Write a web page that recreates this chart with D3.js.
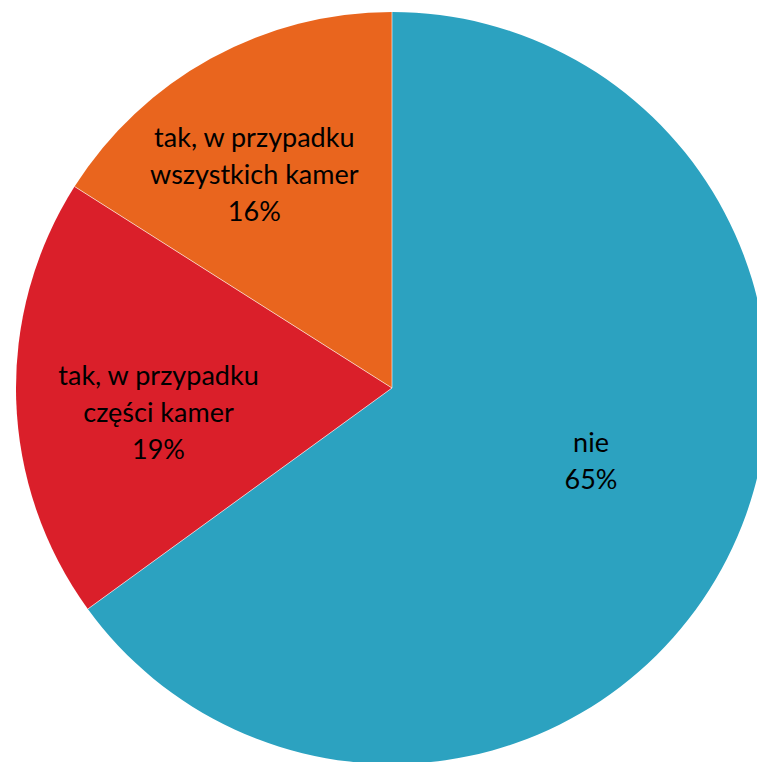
<!DOCTYPE html>
<html>
<head>
<meta charset="utf-8">
<script src="https://cdn.jsdelivr.net/npm/d3@7"></script>
<style>
  html, body { margin: 0; padding: 0; background: #fff; overflow: hidden; }
  text { font-family: Lato, "Open Sans", sans-serif; }
</style>
</head>
<body>
<svg id="chart" width="757" height="762"></svg>
<script>
// categories and shares (%), clockwise from 12 o'clock
const categories = ["nie", "tak, w przypadku części kamer", "tak, w przypadku wszystkich kamer"];
const labelLines = [["nie"], ["tak, w przypadku", "części kamer"], ["tak, w przypadku", "wszystkich kamer"]];
const values = [65, 19, 16];
const colors = ["#2CA2C0", "#DA1F2A", "#E9651E"];

const CX = 392, CY = 388, RADIUS = 376;
const LINE_H = 37;
// nudges so labels sit where the original placed them
const labelShift = [[-2, -29], [-8, 17], [-29, -16]];

const svg = d3.select("#chart");
const g = svg.append("g").attr("transform", `translate(${CX},${CY})`);

const pie = d3.pie().sort(null).value(d => d)(values);
const arc = d3.arc().innerRadius(0).outerRadius(RADIUS);
const labelArc = d3.arc().innerRadius(RADIUS * 0.6).outerRadius(RADIUS * 0.6);

g.selectAll("path.slice")
  .data(pie)
  .enter()
  .append("path")
  .attr("class", "slice")
  .attr("d", arc)
  .attr("fill", (d, i) => colors[i]);

// thin white separators like the original
g.selectAll("line.sep")
  .data(pie)
  .enter()
  .append("line")
  .attr("x1", 0).attr("y1", 0)
  .attr("x2", d => RADIUS * Math.sin(d.startAngle))
  .attr("y2", d => -RADIUS * Math.cos(d.startAngle))
  .attr("stroke", "#fff")
  .attr("stroke-width", 0.6);

const labels = g.selectAll("text.lbl")
  .data(pie)
  .enter()
  .append("text")
  .attr("class", "lbl")
  .attr("text-anchor", "middle")
  .attr("font-size", "27px")
  .attr("fill", "#000")
  .attr("transform", (d, i) => {
    const c = labelArc.centroid(d);
    return `translate(${c[0] + labelShift[i][0]},${c[1] + labelShift[i][1]})`;
  });

labels.each(function(d, i) {
  const lines = labelLines[i].concat([values[i] + "%"]);
  const top = -(lines.length - 1) * LINE_H / 2;
  d3.select(this).selectAll("tspan")
    .data(lines)
    .enter()
    .append("tspan")
    .attr("x", 0)
    .attr("y", (t, k) => top + k * LINE_H)
    .attr("dy", "0.35em")
    .text(t => t);
});
</script>
</body>
</html>
